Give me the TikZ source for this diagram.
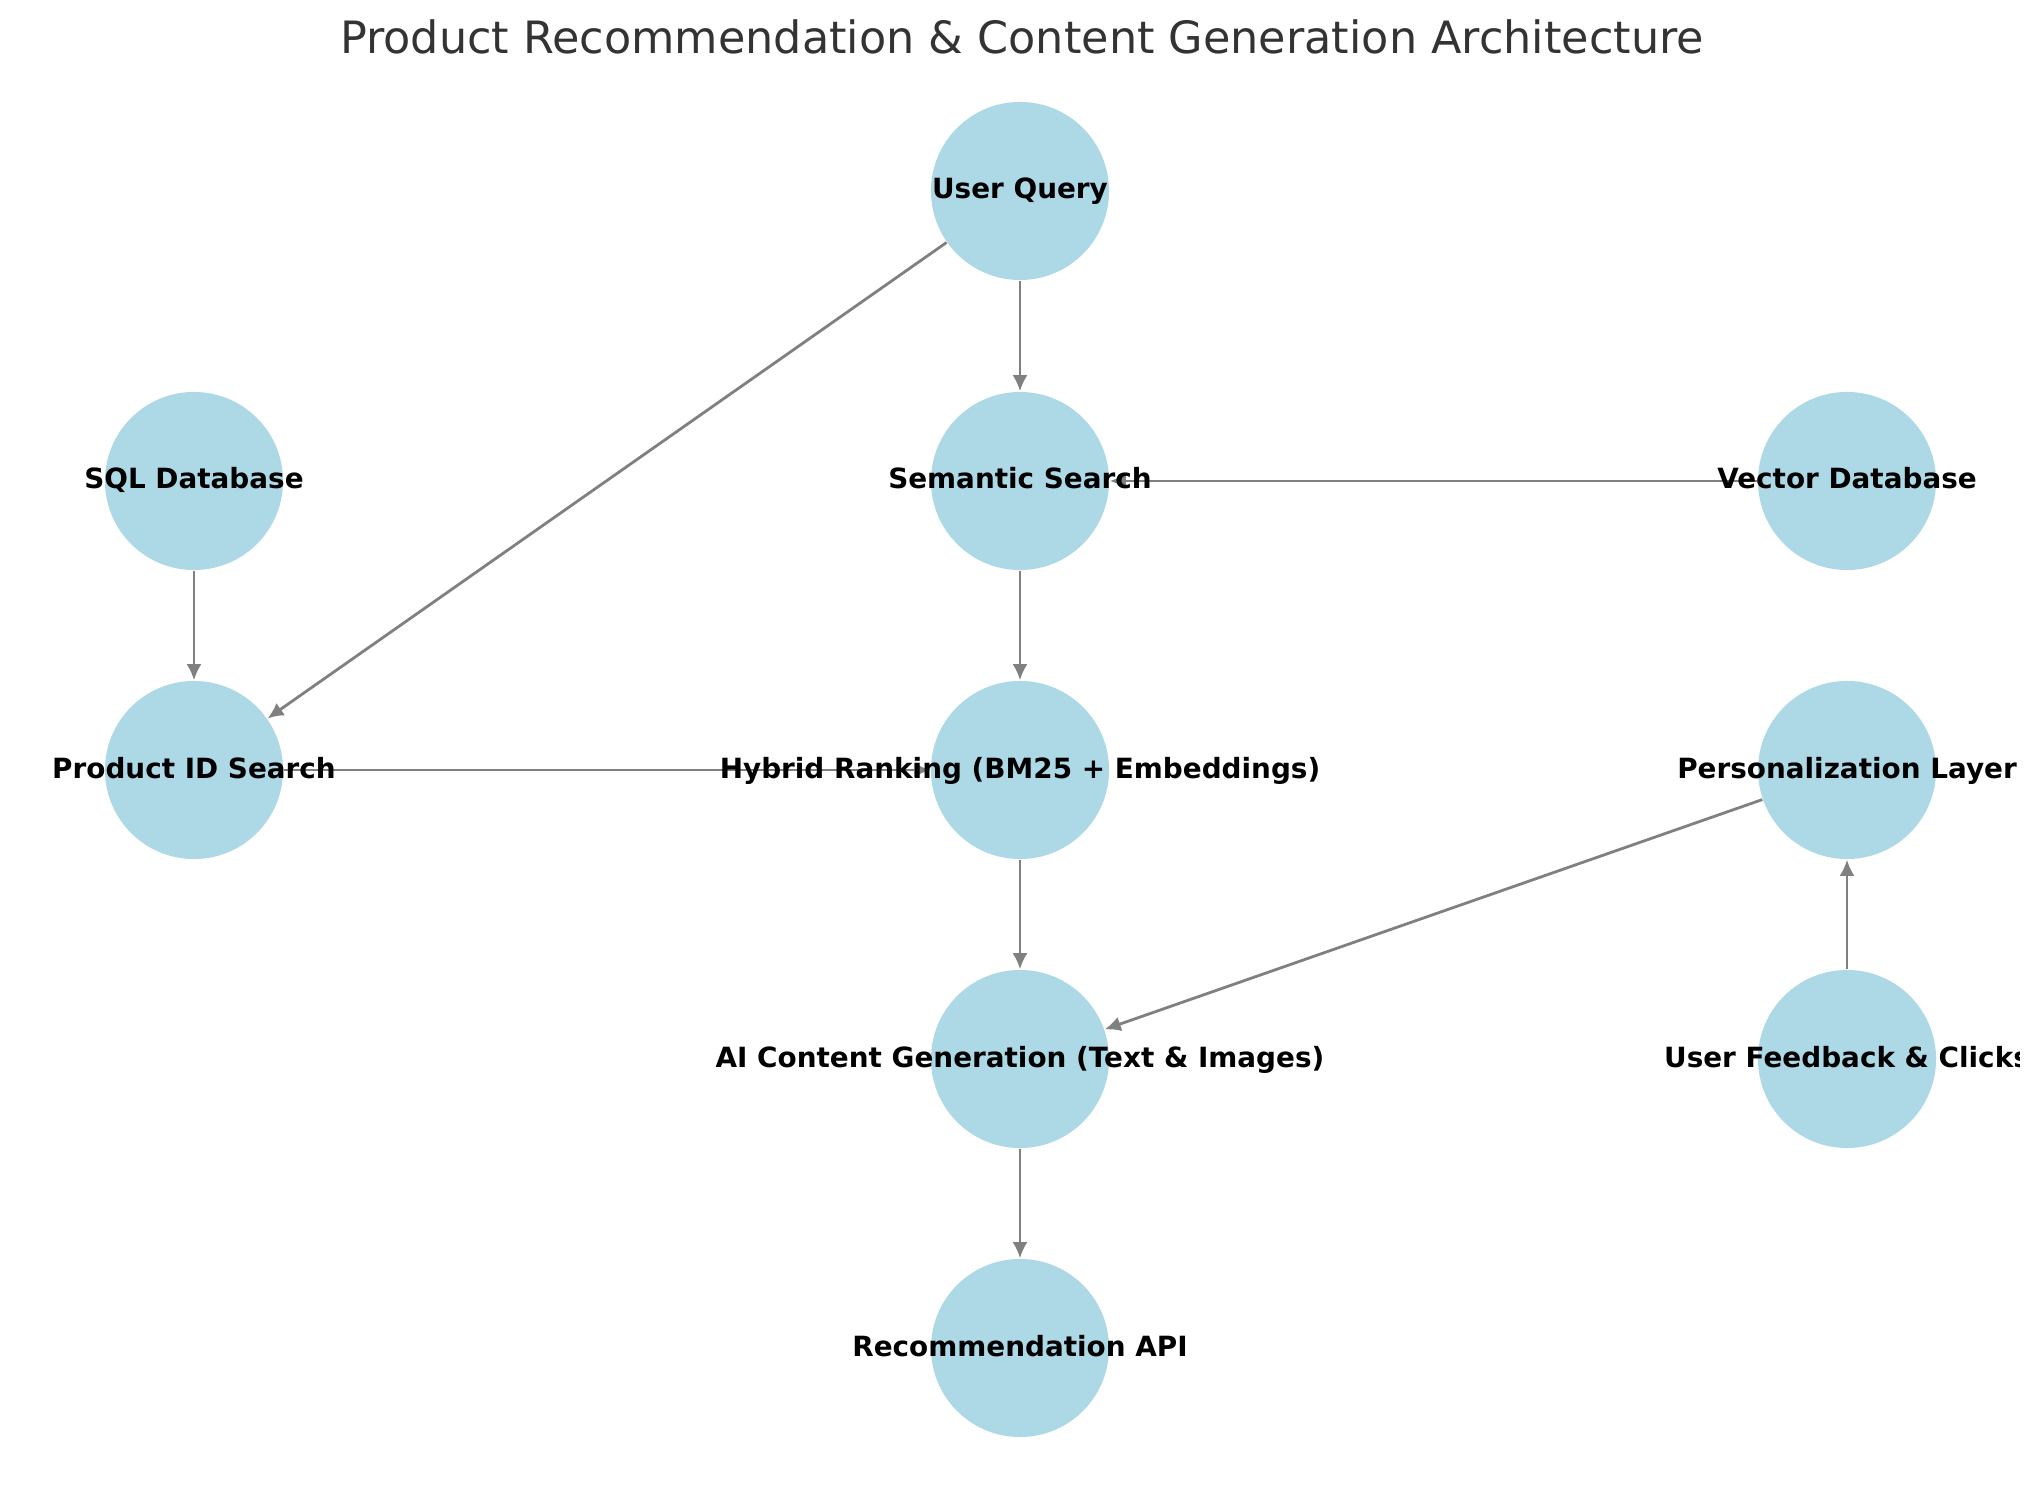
\documentclass[tikz,border=0pt]{standalone}
\usepackage{fontspec}
\setmainfont{DejaVu Sans}
\usepackage{tikz}
\usetikzlibrary{arrows.meta}
\definecolor{nodeblue}{HTML}{ADD8E6}
\definecolor{edgegray}{HTML}{808080}
\definecolor{titlegray}{HTML}{333333}
\tikzstyle{blob} = [circle, fill=nodeblue, minimum size=1.78cm, inner sep=0pt]
\tikzstyle{lbl} = [font=\fontsize{7.92}{9}\selectfont\bfseries, anchor=base, yshift=-0.08cm, inner sep=0pt]
\tikzstyle{arrow} = [draw=edgegray, line width=0.8pt, -{Latex[length=0.16cm,width=0.15cm]}]
\begin{document}
\begin{tikzpicture}[x=0.01cm,y=0.01cm]
	\useasboundingbox (0,0) rectangle (2039,1490);
	\node[font=\fontsize{12.66}{15}\selectfont, text=titlegray, anchor=base, inner sep=0pt] (title) at (1022,1436) {Product Recommendation \& Content Generation Architecture};
	% nodes
	\node (uq) at (1020,1299) [blob] {};
	\node (sem) at (1020,1009) [blob] {};
	\node (vec) at (1847,1009) [blob] {};
	\node (sql) at (194,1009) [blob] {};
	\node (pid) at (194,720) [blob] {};
	\node (hyb) at (1020,720) [blob] {};
	\node (pers) at (1847,720) [blob] {};
	\node (ai) at (1020,431) [blob] {};
	\node (fb) at (1847,431) [blob] {};
	\node (api) at (1020,142) [blob] {};
	% edges
	\draw[arrow] (uq) -- (sem);
	\draw[arrow] (uq) -- (pid);
	\draw[arrow] (sql) -- (pid);
	\draw[arrow] (vec) -- (sem);
	\draw[arrow] (sem) -- (hyb);
	\draw[arrow] (pid) -- (hyb);
	\draw[arrow] (hyb) -- (ai);
	\draw[arrow] (pers) -- (ai);
	\draw[arrow] (fb) -- (pers);
	\draw[arrow] (ai) -- (api);
	% labels
	\begin{scope}
		\clip (0,0) rectangle (2019,1490);
		\node[lbl] (uq-t) at (uq) {User Query};
		\node[lbl] (sem-t) at (sem) {Semantic Search};
		\node[lbl] (vec-t) at (vec) {Vector Database};
		\node[lbl] (sql-t) at (sql) {SQL Database};
		\node[lbl] (pid-t) at (pid) {Product ID Search};
		\node[lbl] (hyb-t) at (hyb) {Hybrid Ranking (BM25 + Embeddings)};
		\node[lbl] (pers-t) at (pers) {Personalization Layer};
		\node[lbl] (ai-t) at (ai) {AI Content Generation (Text \& Images)};
		\node[lbl] (fb-t) at (fb) {User Feedback \& Clicks};
		\node[lbl] (api-t) at (api) {Recommendation API};
	\end{scope}
\end{tikzpicture}
\end{document}
